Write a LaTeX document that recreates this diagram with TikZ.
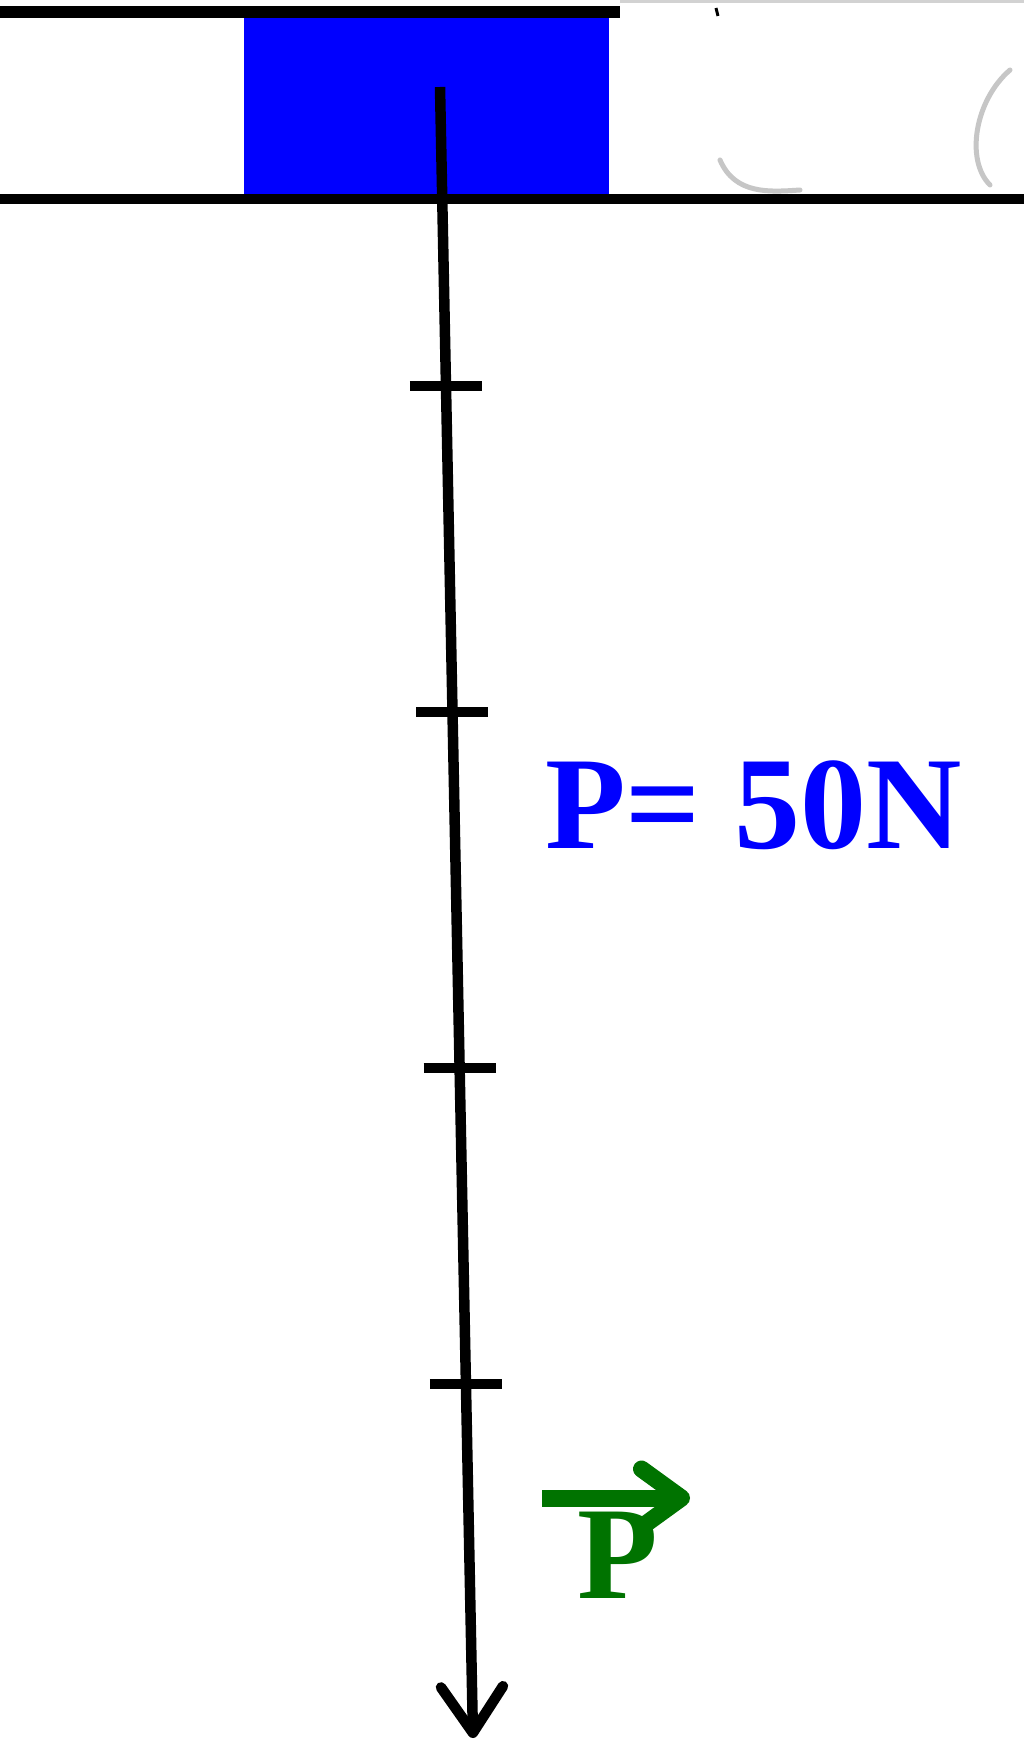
\documentclass[tikz,border=0pt]{standalone}
\usepackage{fontspec}
\setmainfont{Liberation Serif}
\usetikzlibrary{arrows.meta,calc}
\definecolor{pgreen}{RGB}{0,115,0}
\begin{document}
\begin{tikzpicture}[x=1pt,y=-1pt,
  bigtext/.style={anchor=base west, inner sep=0pt, font=\fontsize{132}{132}\selectfont\bfseries},
  force/.style={line width=10.5pt, -{Straight Barb[length=46pt,width=62pt,round]}},
  tick/.style={line width=10.5pt},
  smudge/.style={gray!45, line width=5pt, line cap=round}]
\useasboundingbox (0,0) rectangle (1024,1752);
\fill[white] (0,0) rectangle (1024,1752);
% faint top edge
\draw[gray!35, line width=3pt] (620,2) -- (1024,2);
% block
\node[fill=blue, draw=none, minimum width=365pt, minimum height=180pt, inner sep=0pt, anchor=north west] (block) at (244,16) {};
% rails
\draw[line width=12pt] (0,12) -- (620,12);
\draw[line width=10pt] (0,199) -- (1024,199);
% smudges
\draw[smudge] (720,160) .. controls (735,195) and (770,192) .. (800,190);
\draw[smudge] (1010,70) .. controls (975,100) and (965,160) .. (990,185);
\draw[line width=3pt] (716,8) -- (718,16);
% force line
\coordinate (top) at (440,87);
\coordinate (tip) at (473,1738);
\draw[force] (top) -- (tip);
\foreach \yy [count=\i] in {386,712,1068,1384} {
  \coordinate (t\i) at ($(top)!{(\yy-87)/(1738-87)}!(tip)$);
  \draw[tick] ([xshift=-36pt]t\i) -- ([xshift=36pt]t\i);
}
% labels
\node[bigtext, text=blue] (mag) at (545,848) {P= 50N};
\node[bigtext, text=pgreen] (vec) at (577,1598) {P};
\coordinate (va) at (542,1498);
\coordinate (vb) at (690,1498);
\draw[pgreen, line width=17pt, -{Straight Barb[length=40pt,width=58pt,round]}] (va) -- (vb);
\end{tikzpicture}
\end{document}
